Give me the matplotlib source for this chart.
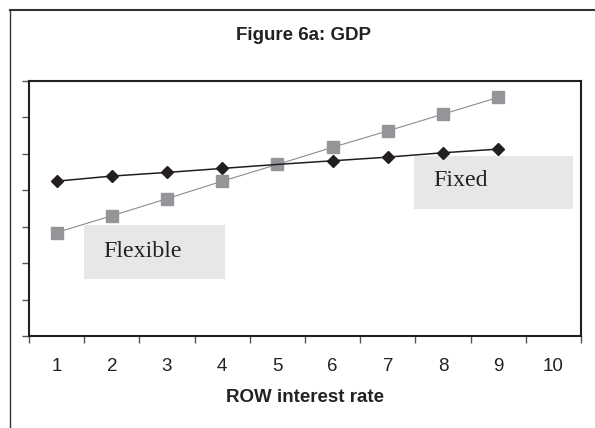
import matplotlib.pyplot as plt
from matplotlib.lines import Line2D
from matplotlib.patches import Rectangle

# ROW interest rate categories
rates = [1, 2, 3, 4, 5, 6, 7, 8, 9]
tick_labels = ["1", "2", "3", "4", "5", "6", "7", "8", "9", "10"]

# GDP under the two regimes (no y labels in original)
gdp_fixed = [4.25, 4.39, 4.49, 4.60, 4.71, 4.81, 4.91, 5.03, 5.13]
gdp_flexible = [2.84, 3.30, 3.77, 4.25, 4.71, 5.18, 5.63, 6.09, 6.55]

fig = plt.figure(figsize=(5.95, 4.28), dpi=100)
ax = fig.add_axes([29 / 595, 1 - 336 / 428, 552 / 595, 255 / 428])

dark = "#231f20"

# fixed markers sit under the flexible squares, fixed line stays on top
ax.plot(rates, gdp_fixed, ls="none", marker="D", ms=6.2,
        mfc=dark, mec=dark, zorder=3)
ax.plot(rates, gdp_flexible, color="#8c8c8c", lw=0.8, marker="s", ms=9,
        mfc="#939598", mec="#939598", zorder=3.5)
ax.plot(rates, gdp_fixed, color=dark, lw=1.1, zorder=4)

ax.set_xlim(0.5, 10.5)
ax.set_ylim(0, 7)
ax.set_yticks(range(8))
ax.set_yticklabels([])
ax.tick_params(axis="y", direction="out", length=5, width=1, color="#555555")

ax.set_xticks(range(1, 11))
ax.set_xticklabels(tick_labels, fontsize=13.5, family="Liberation Sans", color="#222222")
ax.set_xticks([x + 0.5 for x in range(0, 11)], minor=True)
ax.tick_params(axis="x", which="major", length=0, pad=16)
ax.tick_params(axis="x", which="minor", direction="out", length=5, width=1, color="#555555")

for s in ax.spines.values():
    s.set_linewidth(1.5)
    s.set_color(dark)

# label boxes
ax.add_patch(Rectangle((0.698, 0.497), 0.287, 0.210, transform=ax.transAxes,
                       facecolor="#e6e7e8", edgecolor="none", zorder=2))
ax.add_patch(Rectangle((0.0996, 0.2235), 0.2555, 0.2115, transform=ax.transAxes,
                       facecolor="#e6e7e8", edgecolor="none", zorder=2))
ax.text(0.732, 0.609, "Fixed", transform=ax.transAxes, fontsize=17.2,
        family="Liberation Serif", color="#222222", va="center", ha="left", zorder=5)
ax.text(0.1346, 0.333, "Flexible", transform=ax.transAxes, fontsize=17.2,
        family="Liberation Serif", color="#222222", va="center", ha="left", zorder=5)

fig.text(303 / 595, 1 - 35 / 428, "Figure 6a: GDP", fontsize=13.5, fontweight="bold",
         family="Liberation Sans", color="#222222", ha="center", va="center")
fig.text(305 / 595, 1 - 398 / 428, "ROW interest rate", fontsize=13.5, fontweight="bold",
         family="Liberation Sans", color="#222222", ha="center", va="center")

# outer frame (only top and left visible)
fig.add_artist(Line2D([10 / 595, 1], [1 - 9.5 / 428, 1 - 9.5 / 428], color="#333333", lw=1.5))
fig.add_artist(Line2D([10 / 595, 10 / 595], [0, 1 - 9.5 / 428], color="#333333", lw=1.0))

fig.savefig("out.png", dpi=100)
